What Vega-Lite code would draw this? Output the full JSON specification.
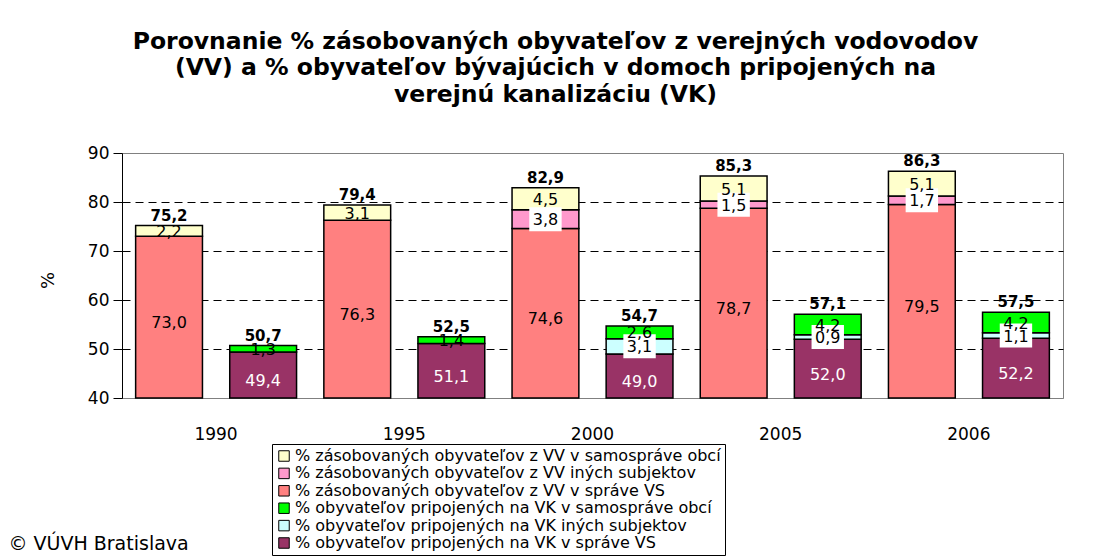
{
  "$schema": "https://vega.github.io/schema/vega-lite/v6.json",
  "autosize": "none",
  "width": 941,
  "height": 245,
  "padding": {"left": 122, "top": 153, "right": 30, "bottom": 159},
  "background": "white",
  "title": {
    "text": ["Porovnanie % zásobovaných obyvateľov z verejných vodovodov", "(VV) a % obyvateľov bývajúcich v domoch pripojených na", "verejnú kanalizáciu (VK)"],
    "font": "DejaVu Sans",
    "fontSize": 23.5,
    "fontWeight": "bold",
    "color": "black",
    "lineHeight": 26.5,
    "anchor": "middle",
    "dx": -37,
    "offset": 38
  },
  "config": {
    "locale": {"number": {"decimal": ",", "thousands": " ", "grouping": [3], "currency": ["", " €"]}},
    "view": {"stroke": "#808080", "strokeWidth": 1},
    "font": "DejaVu Sans"
  },
  "resolve": {"scale": {"y": "independent"}},
  "data": {
    "values": [
      {"bar": "1990 VV", "group": "% zásobovaných obyvateľov z VV v správe VS", "value": 73.0, "order": 1},
      {"bar": "1990 VV", "group": "% zásobovaných obyvateľov z VV v samospráve obcí", "value": 2.2, "order": 3},
      {"bar": "1990 VK", "group": "% obyvateľov pripojených na VK v správe VS", "value": 49.4, "order": 1},
      {"bar": "1990 VK", "group": "% obyvateľov pripojených na VK v samospráve obcí", "value": 1.3, "order": 3},
      {"bar": "1995 VV", "group": "% zásobovaných obyvateľov z VV v správe VS", "value": 76.3, "order": 1},
      {"bar": "1995 VV", "group": "% zásobovaných obyvateľov z VV v samospráve obcí", "value": 3.1, "order": 3},
      {"bar": "1995 VK", "group": "% obyvateľov pripojených na VK v správe VS", "value": 51.1, "order": 1},
      {"bar": "1995 VK", "group": "% obyvateľov pripojených na VK v samospráve obcí", "value": 1.4, "order": 3},
      {"bar": "2000 VV", "group": "% zásobovaných obyvateľov z VV v správe VS", "value": 74.6, "order": 1},
      {"bar": "2000 VV", "group": "% zásobovaných obyvateľov z VV iných subjektov", "value": 3.8, "order": 2},
      {"bar": "2000 VV", "group": "% zásobovaných obyvateľov z VV v samospráve obcí", "value": 4.5, "order": 3},
      {"bar": "2000 VK", "group": "% obyvateľov pripojených na VK v správe VS", "value": 49.0, "order": 1},
      {"bar": "2000 VK", "group": "% obyvateľov pripojených na VK iných subjektov", "value": 3.1, "order": 2},
      {"bar": "2000 VK", "group": "% obyvateľov pripojených na VK v samospráve obcí", "value": 2.6, "order": 3},
      {"bar": "2005 VV", "group": "% zásobovaných obyvateľov z VV v správe VS", "value": 78.7, "order": 1},
      {"bar": "2005 VV", "group": "% zásobovaných obyvateľov z VV iných subjektov", "value": 1.5, "order": 2},
      {"bar": "2005 VV", "group": "% zásobovaných obyvateľov z VV v samospráve obcí", "value": 5.1, "order": 3},
      {"bar": "2005 VK", "group": "% obyvateľov pripojených na VK v správe VS", "value": 52.0, "order": 1},
      {"bar": "2005 VK", "group": "% obyvateľov pripojených na VK iných subjektov", "value": 0.9, "order": 2},
      {"bar": "2005 VK", "group": "% obyvateľov pripojených na VK v samospráve obcí", "value": 4.2, "order": 3},
      {"bar": "2006 VV", "group": "% zásobovaných obyvateľov z VV v správe VS", "value": 79.5, "order": 1},
      {"bar": "2006 VV", "group": "% zásobovaných obyvateľov z VV iných subjektov", "value": 1.7, "order": 2},
      {"bar": "2006 VV", "group": "% zásobovaných obyvateľov z VV v samospráve obcí", "value": 5.1, "order": 3},
      {"bar": "2006 VK", "group": "% obyvateľov pripojených na VK v správe VS", "value": 52.2, "order": 1},
      {"bar": "2006 VK", "group": "% obyvateľov pripojených na VK iných subjektov", "value": 1.1, "order": 2},
      {"bar": "2006 VK", "group": "% obyvateľov pripojených na VK v samospráve obcí", "value": 4.2, "order": 3}
    ]
  },
  "encoding": {
    "x": {
      "field": "bar",
      "type": "nominal",
      "sort": ["1990 VV", "1990 VK", "1995 VV", "1995 VK", "2000 VV", "2000 VK", "2005 VV", "2005 VK", "2006 VV", "2006 VK"],
      "scale": {"paddingInner": 0.29, "paddingOuter": 0.145},
      "axis": {
        "labelExpr": "indexof(datum.value, 'VV') > 0 ? substring(datum.value, 0, 4) : ''",
        "labelAngle": 0,
        "labelOffset": 47,
        "labelPadding": 28,
        "labelFontSize": 17,
        "labelColor": "black",
        "ticks": false,
        "domainColor": "#808080",
        "title": "© VÚVH Bratislava",
        "titleFontSize": 19,
        "titleFontWeight": "normal",
        "titleColor": "black",
        "titleX": -114,
        "titleY": 145,
        "titleAlign": "left",
        "titleBaseline": "middle",
        "titleAnchor": "start"
      }
    }
  },
  "layer": [
    {
      "mark": {"type": "bar", "stroke": "black", "strokeWidth": 1.5},
      "encoding": {
        "y": {
          "field": "value",
          "type": "quantitative",
          "stack": "zero",
          "scale": {"domain": [40, 90], "clamp": true, "nice": false, "zero": false},
          "axis": {
            "values": [40, 50, 60, 70, 80, 90],
            "labelFontSize": 17,
            "labelColor": "black",
            "tickSize": 9,
            "tickColor": "black",
            "domainColor": "black",
            "labelPadding": 4,
            "grid": true,
            "gridDash": [8, 5],
            "gridColor": {"condition": {"test": "datum.value == 40 || datum.value == 90", "value": "transparent"}, "value": "black"},
            "title": "%",
            "titleFontSize": 18,
            "titleFontWeight": "normal",
            "titleColor": "black",
            "titleX": -74,
            "titleY": 127,
            "titleAngle": -90,
            "titleAlign": "center",
            "titleBaseline": "middle"
          }
        },
        "order": {"field": "order", "type": "quantitative"},
        "color": {
          "field": "group",
          "type": "nominal",
          "scale": {
            "domain": ["% zásobovaných obyvateľov z VV v samospráve obcí", "% zásobovaných obyvateľov z VV iných subjektov", "% zásobovaných obyvateľov z VV v správe VS", "% obyvateľov pripojených na VK v samospráve obcí", "% obyvateľov pripojených na VK iných subjektov", "% obyvateľov pripojených na VK v správe VS"],
            "range": ["#FFFFCC", "#FF99CC", "#FF8080", "#00FF00", "#CCFFFF", "#993366"]
          },
          "legend": {
            "title": null,
            "orient": "none",
            "legendX": 150,
            "legendY": 291,
            "direction": "vertical",
            "strokeColor": "black",
            "fillColor": "white",
            "padding": 4,
            "symbolType": "square",
            "symbolSize": 110,
            "symbolStrokeColor": "black",
            "symbolStrokeWidth": 1,
            "labelFontSize": 16,
            "labelColor": "black",
            "labelLimit": 800,
            "labelOffset": 3,
            "rowPadding": 1.4
          }
        }
      }
    },
    {
      "mark": {"type": "point", "shape": "M-1.35,-1H1.35V1H-1.35Z", "filled": true, "color": "white", "size": 576},
      "encoding": {
        "y": {"field": "value", "type": "quantitative", "stack": "zero", "bandPosition": 0.5, "scale": {"domain": [40, 90], "clamp": true, "nice": false, "zero": false}, "axis": null},
        "order": {"field": "order", "type": "quantitative"},
        "detail": {"field": "group"},
        "opacity": {"condition": {"test": "datum.order == 2", "value": 1}, "value": 0}
      }
    },
    {
      "mark": {"type": "text", "fontSize": 16, "baseline": "middle", "dy": 1},
      "encoding": {
        "y": {"field": "value", "type": "quantitative", "stack": "zero", "bandPosition": 0.5, "scale": {"domain": [40, 90], "clamp": true, "nice": false, "zero": false}, "axis": null},
        "order": {"field": "order", "type": "quantitative"},
        "detail": {"field": "group"},
        "text": {"field": "value", "type": "quantitative", "format": ".1f"},
        "opacity": {"condition": {"test": "datum.order == 1", "value": 0}, "value": 1},
        "color": {"value": "black"}
      }
    },
    {
      "transform": [{"filter": "datum.order == 1"}],
      "mark": {"type": "text", "fontSize": 16, "baseline": "middle", "dy": 6},
      "encoding": {
        "y": {"field": "value", "type": "quantitative", "scale": {"domain": [40, 140], "nice": false, "zero": false}, "axis": null},
        "text": {"field": "value", "type": "quantitative", "format": ".1f"},
        "color": {"condition": {"test": "datum.group == '% obyvateľov pripojených na VK v správe VS'", "value": "white"}, "value": "black"}
      }
    },
    {
      "mark": {"type": "text", "fontSize": 15, "fontWeight": "bold", "baseline": "alphabetic", "dy": -5, "color": "black"},
      "encoding": {
        "y": {"aggregate": "sum", "field": "value", "type": "quantitative", "scale": {"domain": [40, 90], "nice": false, "zero": false}, "axis": null},
        "text": {"aggregate": "sum", "field": "value", "type": "quantitative", "format": ".1f"}
      }
    }
  ]
}
